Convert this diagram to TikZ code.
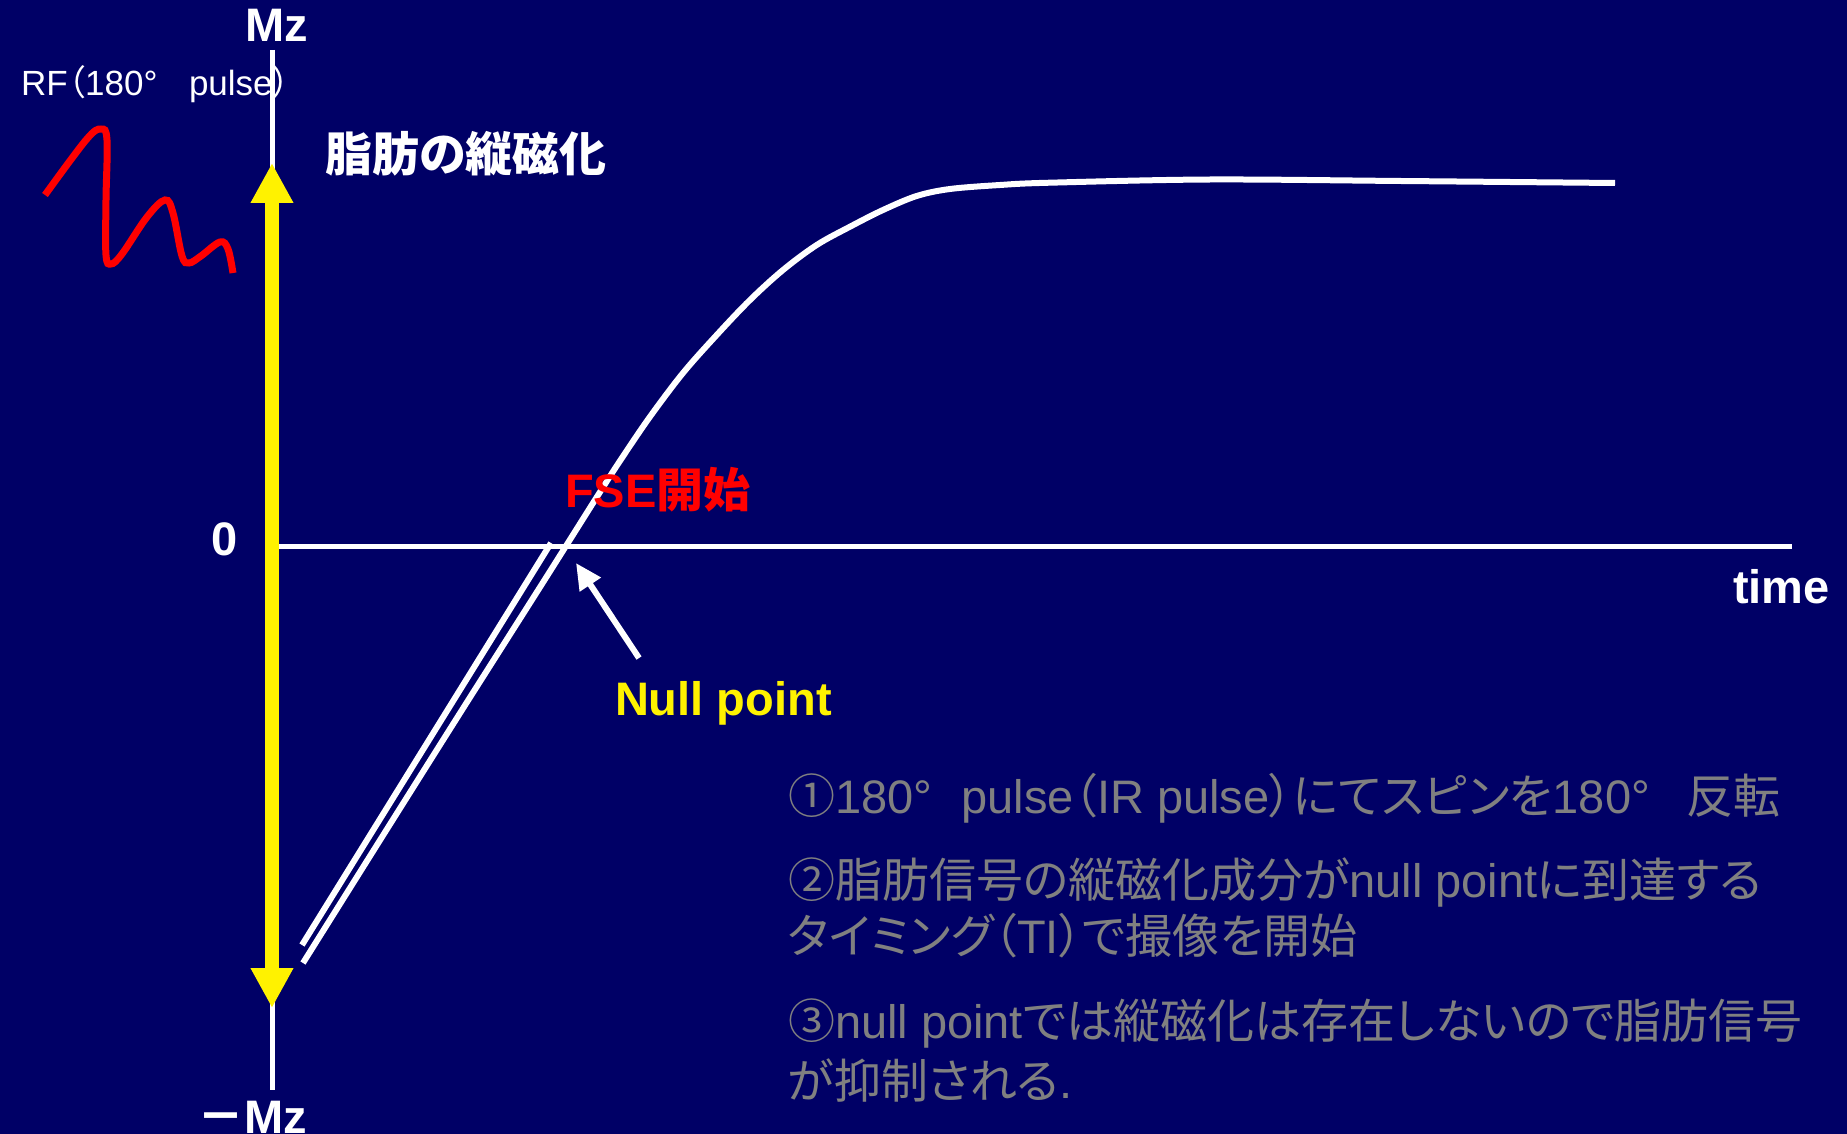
\documentclass[tikz,border=0pt]{standalone}
\usepackage{fontspec}
\setmainfont{Liberation Sans}
\newfontfamily\cjk{Noto Sans CJK JP}[RawFeature=+palt]
\usetikzlibrary{arrows.meta}
\definecolor{navy}{RGB}{0,0,102}
\definecolor{txtgray}{RGB}{128,128,128}
\newcommand\J[1]{{\cjk #1}}
\newcommand\dg{°\hspace{0.62em}}
\begin{document}
\begin{tikzpicture}[x=1pt,y=-1pt,
  lbl/.style={inner sep=0pt, outer sep=0pt, anchor=base west},
  big/.style={font=\fontsize{47}{56}\selectfont\bfseries},
  note/.style={lbl, text=txtgray, font=\fontsize{47}{58}\selectfont},
  curve/.style={white, line width=6pt},
  axis/.style={white, line width=5pt},
]
\fill[navy] (0,0) rectangle (1847,1134);
\useasboundingbox (0,0) rectangle (1847,1134);

% axes
\coordinate (vtop) at (272,50);
\coordinate (vbot) at (272,1090);
\draw[axis] (vtop) -- (vbot);
\coordinate (hstart) at (272,546);
\coordinate (hend) at (1792,546);
\draw[axis] (hstart) -- (hend);

% yellow double arrow
\coordinate (ytop) at (272,163);
\coordinate (ybot) at (272,1008);
\draw[yellow, line width=14pt, {Triangle[width=40pt,length=40pt]}-{Triangle[width=40pt,length=40pt]}] (ytop) -- (ybot);

% magnetisation curves
\coordinate (c0) at (302,945);
\coordinate (c0e) at (551,543);
\draw[curve] (c0) -- (c0e);
\draw[curve] plot[smooth, tension=0.55] coordinates {(303,963) (382,837) (462,710) (542,584) (600,492) (621.7,458.3) (650,416.7) (683,373) (716.7,335) (750,300) (783,270) (816.7,245) (850,226.7) (883,210) (916.7,196) (950,189) (1000,185) (1050,182.7) (1210,179.5) (1401,181) (1615,183)};

% null point arrow
\coordinate (natail) at (639,658);
\coordinate (natip) at (576,563);
\draw[white, line width=6pt, -{Triangle[width=24pt,length=26pt]}] (natail) -- (natip);

% RF pulse
\draw[red, line width=7pt] plot[smooth, tension=0.6] coordinates {(45,195) (86,140) (101,129) (107,140) (106,200) (106,255) (111,264) (122,254) (147,217) (165,200) (173,213) (182,256) (189,263) (201,256) (220,242) (228,249) (233,273)};

% labels
\node[lbl, white, big] (mz) at (245,42) {Mz};
\node[lbl, white, big, anchor=base east] (mmz) at (307,1133) {\J{－}Mz};
\node[lbl, white, big, anchor=base] (zero) at (224.5,555) {0};
\node[lbl, white, big] (time) at (1733,603) {time};
\node[lbl, yellow, big] (null) at (615,715) {Null point};
\node[lbl, red, big] (fse) at (565,507) {FSE\J{開始}};
\node[lbl, white, big] (fat) at (325,172) {\J{脂肪の縦磁化}};
\node[lbl, white, font=\fontsize{35}{42}\selectfont] (rf) at (21,96) {RF\J{（}180°\hspace{0.9em}pulse\J{）}};

% notes
\node[note] (n1) at (788,813) {\J{①}180\dg pulse\J{（}IR pulse\J{）にてスピンを}180\dg\hspace{0.15em}\J{反転}};
\node[note] (n2) at (788,897) {\J{②脂肪信号の縦磁化成分が}null point\J{に到達する}};
\node[note] (n3) at (788,953) {\J{タイミング（}TI\J{）で撮像を開始}};
\node[note] (n4) at (788,1038) {\J{③}null point\J{では縦磁化は存在しないので脂肪信号}};
\node[note] (n5) at (788,1098) {\J{が抑制される}.};
\end{tikzpicture}
\end{document}
